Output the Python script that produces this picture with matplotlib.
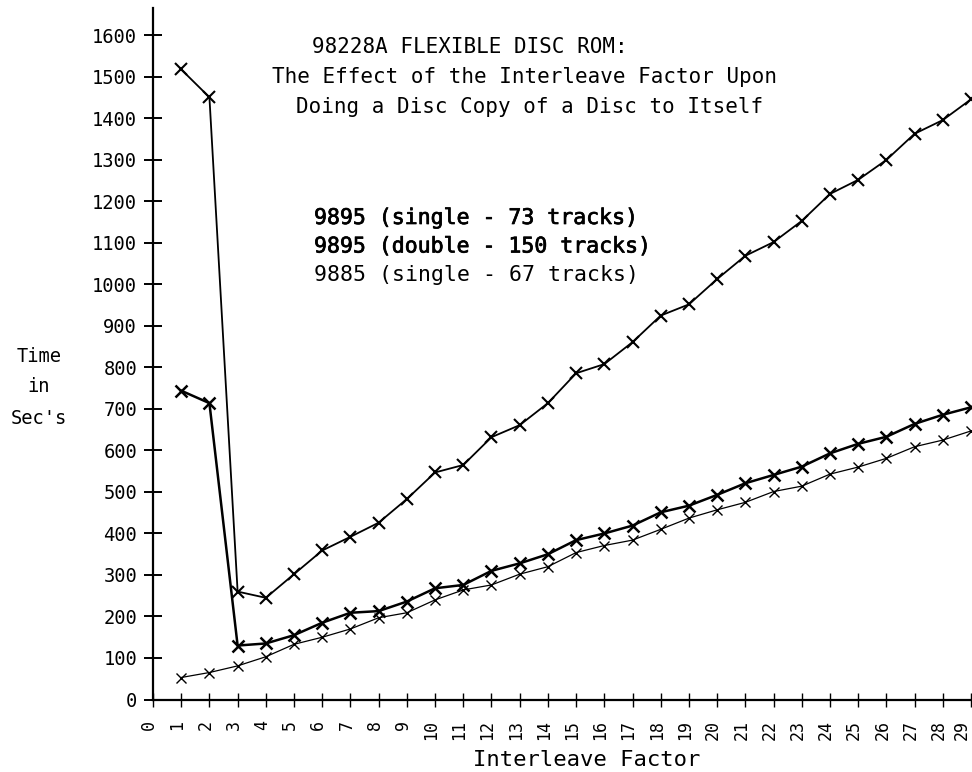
import numpy as np
import matplotlib
matplotlib.use('Agg')
import matplotlib.pyplot as plt
import matplotlib.transforms as mtransforms
import matplotlib.patheffects as pe

"""
Disc copy time versus interleave factor for the 98228A flexible disc ROM.
"""

interleave = list(range(1, 30))

# 9895 double sided, 150 tracks
double_150 = [1518, 1451, 260, 245, 302, 359, 392, 426, 483, 547,
              565, 632, 661, 714, 786, 808, 861, 925, 952, 1013,
              1069, 1102, 1153, 1218, 1252, 1300, 1363, 1396, 1446]

# 9895 single sided, 73 tracks
single_73 = [744, 714, 130, 135, 155, 185, 209, 213, 236, 268,
             276, 310, 328, 350, 384, 400, 419, 451, 467, 493,
             521, 541, 561, 593, 616, 633, 664, 686, 704]

# 9885 single sided, 67 tracks
single_67 = [53, 65, 81, 103, 133, 150, 170, 197, 209, 240,
             264, 276, 302, 320, 354, 371, 384, 410, 437, 457,
             475, 501, 514, 543, 560, 581, 609, 625, 647]

y_ticks = list(range(0, 1700, 100))
x_ticks = list(range(0, 30))

title_lines = ['98228A FLEXIBLE DISC ROM:',
               'The Effect of the Interleave Factor Upon',
               'Doing a Disc Copy of a Disc to Itself']
title_x = [470, 525, 530]
legend_lines = ['9895 (single - 73 tracks)',
                '9895 (double - 150 tracks)',
                '9885 (single - 67 tracks)']

W, H = 972, 772
plt.rcParams['font.family'] = ['DejaVu Sans Mono']


def fx(px):
    return px / W


def fy(py):
    return 1 - py / H


def main():
    fig = plt.figure(figsize=(W / 100, H / 100), dpi=100)
    ax = fig.add_axes([fx(153), fy(699.5), fx(971) - fx(153), fy(8) - fy(699.5)])

    ax.plot(interleave, double_150, color='black', linewidth=1.3,
            marker='x', markersize=8, markeredgewidth=1.5)
    ax.plot(interleave, single_73, color='black', linewidth=1.8,
            marker='x', markersize=8, markeredgewidth=1.8)
    ax.plot(interleave, single_67, color='black', linewidth=0.9,
            marker='x', markersize=7, markeredgewidth=1.0)

    ax.set_xlim(0, 29)
    ax.set_ylim(0, 1666)
    for side in ['top', 'right']:
        ax.spines[side].set_visible(False)
    for side in ['left', 'bottom']:
        ax.spines[side].set_linewidth(1.6)

    ax.set_yticks(y_ticks)
    ax.set_yticklabels([str(v) for v in y_ticks], fontsize=13.5)
    ax.set_xticks(x_ticks)
    ax.set_xticklabels([str(v) for v in x_ticks], fontsize=12, rotation=90)
    ax.tick_params(axis='y', direction='inout', length=13, width=1.4, pad=5)
    ax.tick_params(axis='x', direction='inout', length=10, width=1.0, pad=10)

    # nudge the rotated tick labels left; the last one a bit more so it fits
    labels = ax.get_xticklabels()
    for k, lbl in enumerate(labels):
        dx = -9 if k == len(labels) - 1 else -4
        shift = mtransforms.ScaledTranslation(dx / 100, 0, fig.dpi_scale_trans)
        lbl.set_transform(lbl.get_transform() + shift)

    for line, x, i in zip(title_lines, title_x, range(3)):
        fig.text(fx(x), fy(47 + 30 * i), line, ha='center', va='center',
                 fontsize=15)
    for i, line in enumerate(legend_lines):
        t = fig.text(fx(314), fy(218 + 28.5 * i), line, ha='left', va='center',
                     fontsize=15.5)
        if i < 2:
            t.set_path_effects([pe.withStroke(linewidth=0.5, foreground='black')])

    fig.text(fx(39), fy(387), 'Time\nin\nSec\'s', ha='center', va='center',
             fontsize=13.5, linespacing=1.8)
    fig.text(fx(587), fy(760), 'Interleave Factor', ha='center', va='center',
             fontsize=16)

    fig.savefig('out.png', dpi=100, facecolor='white')


if __name__ == '__main__':
    main()
